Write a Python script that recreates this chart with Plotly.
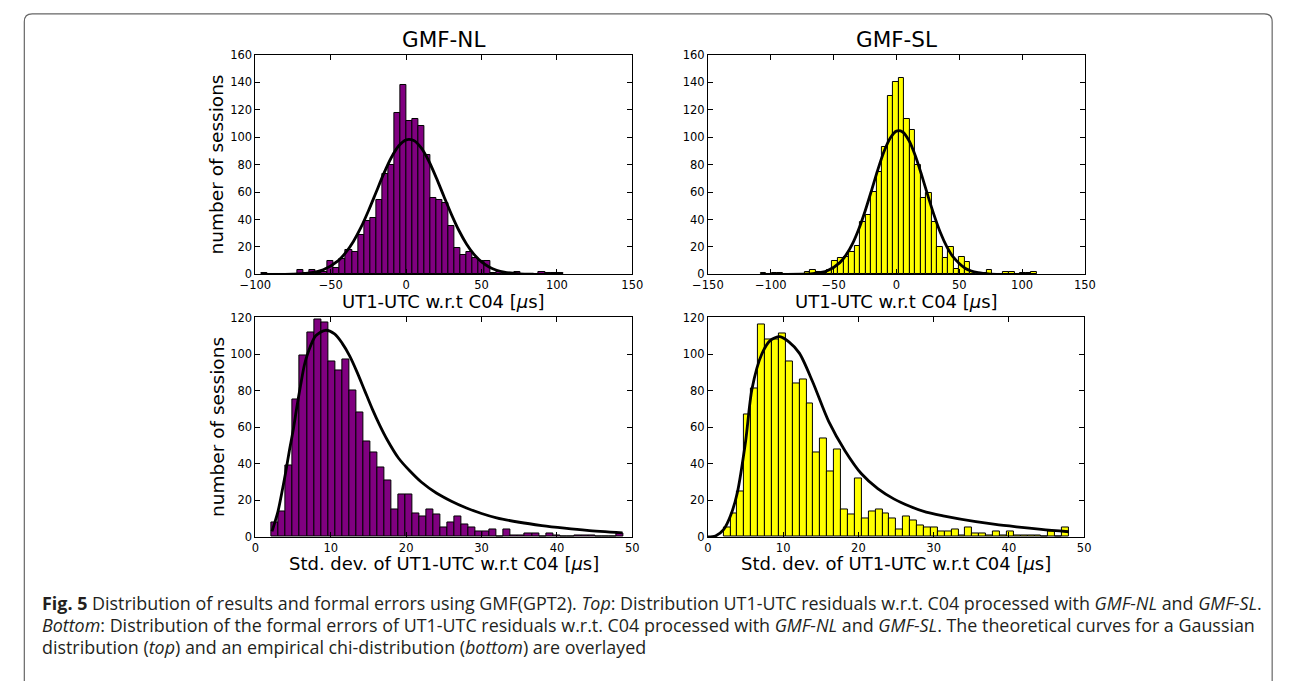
import numpy as np
import plotly.graph_objects as go

W, H = 1291, 681

# ---------------- data ----------------
# Top-left: UT1-UTC residuals, GMF-NL (50 bins over the range below, µs)
nl_res_range = (-96.0, 104.0)
nl_res_counts = [1, 0, 0, 0, 0, 0, 3, 1, 3, 1,
                 2, 10, 5, 11, 18, 16, 29, 39, 41, 54,
                 73, 80, 118, 138, 112, 113, 108, 87, 56, 54,
                 52, 35, 19, 14, 16, 12, 10, 10, 1, 2,
                 1, 0, 2, 0, 0, 0, 2, 1, 1, 1]
nl_gauss_x = [-96, -85, -75, -65, -55, -45, -40, -35, -30, -25, -20, -15, -10, -5, 0,
              5, 10, 15, 20, 25, 30, 35, 40, 45, 50, 55, 60, 65, 75, 85, 104]
nl_gauss_y = [0.0, 0.04, 0.2, 0.95, 3.4, 10.1, 16.0, 24.0, 34.2, 46.4, 59.7, 73.1, 84.9, 93.6, 98.1,
              97.6, 92.2, 82.7, 70.4, 57.0, 43.8, 32.0, 22.2, 14.6, 9.1, 5.4, 3.0, 1.6, 0.4, 0.08, 0.0]

# Top-right: UT1-UTC residuals, GMF-SL
sl_res_range = (-108.0, 111.5)
sl_res_counts = [1, 0, 1, 1, 0, 0, 0, 0, 2, 3,
                 2, 1, 3, 10, 12, 13, 16, 21, 38, 43,
                 60, 75, 93, 130, 140, 143, 113, 105, 80, 56,
                 59, 38, 20, 12, 20, 4, 13, 9, 2, 1,
                 1, 3, 0, 0, 2, 2, 0, 1, 1, 2]
sl_gauss_x = [-108, -90, -75, -65, -55, -45, -40, -35, -30, -25, -20, -15, -10, -5, 0,
              5, 10, 15, 20, 25, 30, 35, 40, 45, 55, 65, 75, 90, 111.5]
sl_gauss_y = [0.0, 0.02, 0.13, 0.65, 2.6, 8.6, 14.2, 22.2, 32.9, 45.9, 60.6, 75.7, 89.2, 99.3, 104.5,
              103.9, 97.6, 86.7, 72.7, 57.6, 43.2, 30.5, 20.4, 12.9, 4.3, 1.2, 0.25, 0.02, 0.0]

# Bottom-left: formal errors (std. dev.), GMF-NL
nl_std_range = (2.17, 48.8)
nl_std_counts = [8, 14, 39, 75, 99, 112, 119, 117, 96, 91,
                 97, 80, 68, 52, 46, 38, 31, 15, 23, 23,
                 13, 11, 15, 12, 5, 8, 11, 7, 5, 3,
                 3, 4, 0, 4, 1, 1, 2, 2, 0, 2,
                 1, 0, 0, 1, 1, 1, 0, 0, 0, 2]
nl_chi_x = [2.2, 3.0, 3.5, 4.0, 4.5, 5.0, 5.5, 6.0, 6.5, 7.0, 8.0, 9.3, 10.5, 11.5, 12.5, 13.5,
            14.5, 15.5, 16.5, 17.5, 19.0, 20.5, 22.0, 24.0, 26.0, 28.0, 30.0, 32.0, 35.0, 38.0,
            41.0, 44.0, 48.7]
nl_chi_y = [3, 14, 24, 35, 47, 58, 71, 83, 94, 101, 110, 113, 111, 106, 99, 90,
            80, 70, 61, 53, 43, 36, 30, 24, 19.5, 15.8, 12.8, 10.4, 8.0, 6.2,
            4.8, 3.6, 2.2]

# Bottom-right: formal errors (std. dev.), GMF-SL
sl_std_range = (2.08, 47.98)
sl_std_counts = [5, 13, 25, 67, 81, 116, 108, 108, 111, 96,
                 84, 86, 73, 46, 54, 36, 48, 15, 12, 32,
                 10, 14, 15, 13, 10, 4, 11, 9, 6, 5,
                 5, 3, 3, 4, 1, 5, 2, 2, 1, 3,
                 1, 3, 1, 1, 1, 1, 0, 3, 0, 5]
sl_chi_x = [0, 1.0, 2.08, 3.04, 3.9, 5.0, 5.86, 7.16, 8.3, 9.55, 10.8, 12.15, 13.9, 16.06,
            18.23, 20.4, 22.57, 24.7, 26.9, 29.0, 31.25, 35.6, 38.2, 41.0, 44.3, 47.96]
sl_chi_y = [0, 0.5, 4, 12, 24, 52, 81, 100, 107.5, 109.5, 106.5, 100.5, 85, 63,
            47, 34.5, 26.4, 20.8, 16.6, 13.5, 11.5, 8.3, 6.8, 5.5, 4.1, 2.8]

panel_titles = ["GMF-NL", "GMF-SL"]
x_title_top = "UT1-UTC w.r.t C04 [<i>μ</i>s]"
x_title_bottom = "Std. dev. of UT1-UTC w.r.t C04 [<i>μ</i>s]"
y_title = "number of sessions"
caption_lines = [
    "<b>Fig. 5</b> Distribution of results and formal errors using GMF(GPT2). <i>Top</i>: Distribution "
    "UT1-UTC residuals w.r.t. C04 processed with <i>GMF-NL</i> and <i>GMF-SL</i>.",
    "<i>Bottom</i>: Distribution of the formal errors of UT1-UTC residuals w.r.t. C04 processed with "
    "<i>GMF-NL</i> and <i>GMF-SL</i>. The theoretical curves for a Gaussian",
    "distribution (<i>top</i>) and an empirical chi-distribution (<i>bottom</i>) are overlayed",
]

PURPLE = "#800080"
YELLOW = "#ffff00"
FONT = "DejaVu Sans"


def px_x(p):
    return p / W


def px_y(p):
    return 1 - p / H


fig = go.Figure()


def add_hist(rng, counts, color, ax):
    edges = np.linspace(rng[0], rng[1], len(counts) + 1)
    centers = (edges[:-1] + edges[1:]) / 2
    bw = edges[1] - edges[0]
    fig.add_trace(go.Bar(x=centers, y=counts, width=bw,
                         marker=dict(color=color, line=dict(color="black", width=1)),
                         xaxis="x" + ax, yaxis="y" + ax, showlegend=False))


def add_curve(xs, ys, ax):
    fig.add_trace(go.Scatter(x=xs, y=ys, mode="lines",
                             line=dict(color="black", width=2.8, shape="spline", smoothing=0.8),
                             xaxis="x" + ax, yaxis="y" + ax, showlegend=False))


add_hist(nl_res_range, nl_res_counts, PURPLE, "")
add_curve(nl_gauss_x, nl_gauss_y, "")
add_hist(sl_res_range, sl_res_counts, YELLOW, "2")
add_curve(sl_gauss_x, sl_gauss_y, "2")
add_hist(nl_std_range, nl_std_counts, PURPLE, "3")
add_curve(nl_chi_x, nl_chi_y, "3")
add_hist(sl_std_range, sl_std_counts, YELLOW, "4")
add_curve(sl_chi_x, sl_chi_y, "4")

# panel pixel boxes (left, right, top, bottom)
boxes = {
    "": (244.5, 629.5, 49, 273),
    "2": (706.7, 1091.7, 49, 273),
    "3": (244.5, 629.5, 317, 541),
    "4": (706.7, 1091.0, 317, 541),
}
xranges = {"": [-100, 150], "2": [-150, 150], "3": [0, 50], "4": [0, 50]}
xticks = {"": [-100, -50, 0, 50, 100, 150], "2": [-150, -100, -50, 0, 50, 100, 150],
          "3": [0, 10, 20, 30, 40, 50], "4": [0, 10, 20, 30, 40, 50]}
yranges = {"": [0, 160], "2": [0, 160], "3": [0, 120], "4": [0, 120]}
yticks = {"": list(range(0, 161, 20)), "2": list(range(0, 161, 20)),
          "3": list(range(0, 121, 20)), "4": list(range(0, 121, 20))}

common = dict(showgrid=False, zeroline=False, showline=True, linecolor="black", linewidth=1,
              mirror="allticks", ticks="inside", ticklen=5, tickcolor="black", tickwidth=1,
              tickfont=dict(family=FONT, size=11.5, color="black"), tickmode="array")

layout_axes = {}
for ax, (l, r, t, b) in boxes.items():
    xname = "xaxis" + ax
    yname = "yaxis" + ax
    layout_axes[xname] = dict(common, domain=[px_x(l), px_x(r)], range=xranges[ax],
                              tickvals=xticks[ax], anchor="y" + ax)
    layout_axes[yname] = dict(common, domain=[px_y(b), px_y(t)], range=yranges[ax],
                              tickvals=yticks[ax], anchor="x" + ax)

annotations = []
# panel titles
for title, (l, r, t, b) in zip(panel_titles, [boxes[""], boxes["2"]]):
    annotations.append(dict(text=title, x=px_x((l + r) / 2), y=px_y(33), xref="paper", yref="paper",
                            xanchor="center", yanchor="middle", showarrow=False,
                            font=dict(family=FONT, size=21.5, color="black")))
# x titles
for ax, txt, yc in [("", x_title_top, 301), ("2", x_title_top, 301),
                    ("3", x_title_bottom, 568), ("4", x_title_bottom, 568)]:
    l, r, t, b = boxes[ax]
    annotations.append(dict(text=txt, x=px_x((l + r) / 2), y=px_y(yc), xref="paper", yref="paper",
                            xanchor="center", yanchor="middle", showarrow=False,
                            font=dict(family=FONT, size=18, color="black")))
# y titles (left column only)
for ax in ["", "3"]:
    l, r, t, b = boxes[ax]
    annotations.append(dict(text=y_title, x=px_x(205), y=px_y((t + b) / 2), xref="paper", yref="paper",
                            xanchor="center", yanchor="middle", textangle=-90, showarrow=False,
                            font=dict(family=FONT, size=18.5, color="black")))
# caption
for line, yc in zip(caption_lines, [608, 631, 653]):
    annotations.append(dict(text=line, x=px_x(25), y=px_y(yc), xref="paper", yref="paper",
                            xanchor="left", yanchor="middle", showarrow=False, align="left",
                            font=dict(family="Open Sans", size=17.9, color="#231f20")))


# rounded frame around figure
def P(x, y):
    return f"{px_x(x):.5f},{px_y(y):.5f}"


frame = (f"M {P(8.5, 700)} L {P(8.5, 15)} Q {P(8.5, 7)} {P(16.5, 7)} "
         f"L {P(1275, 7)} Q {P(1283, 7)} {P(1283, 15)} L {P(1283, 700)}")

fig.update_layout(
    width=W, height=H, autosize=False,
    margin=dict(l=0, r=0, t=0, b=0),
    paper_bgcolor="white", plot_bgcolor="white",
    annotations=annotations,
    shapes=[dict(type="path", path=frame, xref="paper", yref="paper",
                 line=dict(color="#666666", width=1.2))],
    bargap=0,
    **layout_axes,
)

fig.write_html("out.html",
               post_script="document.body.style.margin='0';document.body.style.overflow='hidden';")
